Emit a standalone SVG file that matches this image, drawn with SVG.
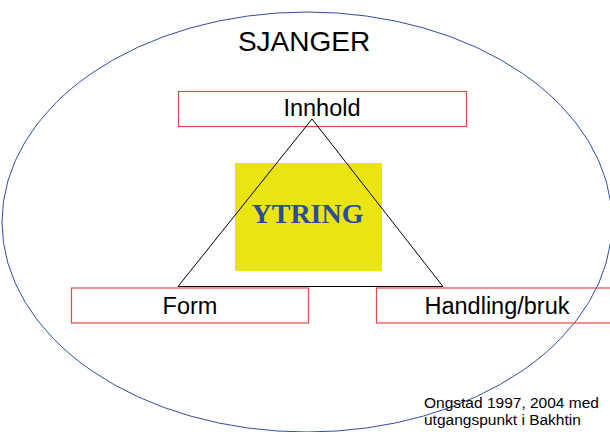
<svg xmlns="http://www.w3.org/2000/svg" width="610" height="432" viewBox="0 0 610 432">
  <style>
    .box { fill: none; stroke: #e8474b; stroke-width: 1.2; }
    .lbl { font-family: "Liberation Sans", Arial, sans-serif; fill: #000; text-anchor: middle; }
    .edge { fill: none; stroke: #000; stroke-width: 1; }
  </style>
  <rect width="610" height="432" fill="#fff"/>

  <!-- genre ellipse -->
  <g id="sjanger">
    <ellipse cx="307" cy="222" rx="305" ry="210" fill="none" stroke="#2e4ea2" stroke-width="1"/>
    <text class="lbl" x="304" y="51" font-size="28">SJANGER</text>
  </g>

  <!-- utterance -->
  <g id="ytring">
    <rect x="235" y="163" width="147" height="108" fill="#e9e412"/>
    <text x="307.5" y="223" font-family="'Liberation Serif', 'Times New Roman', serif" font-weight="bold" font-size="28" fill="#2b4c9c" text-anchor="middle">YTRING</text>
  </g>

  <g id="innhold">
    <rect class="box" x="178.5" y="91.5" width="288" height="35"/>
    <text class="lbl" x="322" y="116" font-size="23.5">Innhold</text>
  </g>

  <g id="form">
    <rect class="box" x="71.5" y="288" width="237" height="35"/>
    <text class="lbl" x="190" y="314" font-size="23.5">Form</text>
  </g>

  <g id="handling">
    <rect class="box" x="376.5" y="288" width="240" height="35"/>
    <text class="lbl" x="497" y="314" font-size="23.5">Handling/bruk</text>
  </g>

  <!-- triangle linking the three aspects -->
  <g id="connectors">
    <polygon class="edge" points="312,119 443,286.5 178,286.5"/>
  </g>

  <g id="kilde">
    <text font-family="'Liberation Sans', Arial, sans-serif" font-size="15.5" fill="#000">
      <tspan x="424" y="408">Ongstad 1997, 2004 med</tspan>
      <tspan x="424" y="425">utgangspunkt i Bakhtin</tspan>
    </text>
  </g>
</svg>
